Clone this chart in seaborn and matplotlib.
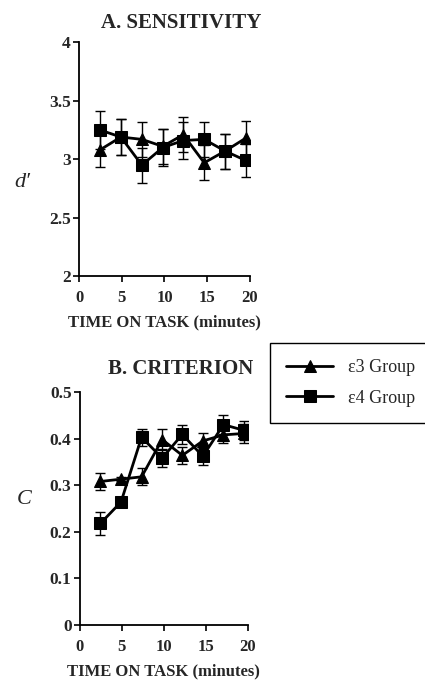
import matplotlib
matplotlib.use("Agg")
import matplotlib.pyplot as plt
import seaborn as sns
import pandas as pd
import numpy as np

sns.set_theme(style="ticks")
plt.rcParams['font.family'] = ['Liberation Serif', 'DejaVu Serif']

# ---- data ----
time_min = [2.45, 4.9, 7.35, 9.8, 12.2, 14.65, 17.1, 19.5]
groups = ["ε3 Group", "ε4 Group"]

dprime_e3 = [3.08, 3.19, 3.17, 3.11, 3.21, 2.97, 3.07, 3.18]
dprime_e4 = [3.25, 3.19, 2.95, 3.10, 3.16, 3.17, 3.07, 2.99]
dprime_err_e3 = [0.15, 0.15, 0.15, 0.15, 0.15, 0.15, 0.15, 0.15]
dprime_err_e4 = [0.16, 0.15, 0.15, 0.16, 0.16, 0.15, 0.15, 0.14]

crit_e3 = [0.308, 0.313, 0.318, 0.398, 0.364, 0.395, 0.408, 0.411]
crit_e4 = [0.218, 0.264, 0.403, 0.358, 0.409, 0.362, 0.430, 0.418]
crit_err_e3 = [0.018, 0.004, 0.018, 0.022, 0.018, 0.018, 0.018, 0.02]
crit_err_e4 = [0.025, 0.004, 0.018, 0.02, 0.02, 0.018, 0.02, 0.02]

df = pd.DataFrame({
    "time": time_min * 2,
    "group": [groups[0]] * 8 + [groups[1]] * 8,
    "dprime": dprime_e3 + dprime_e4,
    "dprime_err": dprime_err_e3 + dprime_err_e4,
    "crit": crit_e3 + crit_e4,
    "crit_err": crit_err_e3 + crit_err_e4,
})

fig = plt.figure(figsize=(4.25, 6.82), dpi=100)
ax1 = fig.add_axes([0.186, 0.595, 0.402, 0.343])
ax2 = fig.add_axes([0.188, 0.0836, 0.395, 0.3416])

bold = dict(fontweight="bold")

def draw(ax, ycol, ecol, ylim, yticks, yticklabels, title, title_pad, ylabel, ylabel_y):
    for g in groups:
        sub = df[df.group == g]
        ax.errorbar(sub["time"], sub[ycol], yerr=sub[ecol], fmt="none",
                    ecolor="black", elinewidth=1.0, capsize=3.5, capthick=1.0, zorder=2)
    sns.lineplot(data=df, x="time", y=ycol, hue="group", style="group",
                 markers=["^", "s"], dashes=False, palette=["black", "black"],
                 markersize=9, linewidth=2, markeredgecolor="black",
                 ax=ax, legend=(ax is ax2), zorder=3)
    ax.set_xlim(0, 20)
    ax.set_ylim(*ylim)
    ax.set_xticks([0, 5, 10, 15, 20])
    ax.set_xticklabels(["0", "5", "10", "15", "20"], fontsize=12, **bold)
    ax.set_yticks(yticks)
    ax.set_yticklabels(yticklabels, fontsize=12.5, **bold)
    ax.spines["top"].set_visible(False)
    ax.spines["right"].set_visible(False)
    for s in ("left", "bottom"):
        ax.spines[s].set_linewidth(1.3)
        ax.spines[s].set_color("black")
    ax.tick_params(axis="both", direction="out", length=4, width=1.2, color="black")
    ax.tick_params(axis="x", pad=6)
    ax.tick_params(axis="y", pad=2)
    ax.set_xlabel("TIME ON TASK (minutes)", fontsize=12, **bold, labelpad=6)
    ax.set_ylabel(ylabel, fontsize=16, style="italic", rotation=0, va="center")
    ax.yaxis.set_label_coords(-0.33, ylabel_y)
    ax.set_title(title, fontsize=15, **bold, pad=title_pad, x=0.6)
    ax.set_facecolor("white")

draw(ax1, "dprime", "dprime_err", (2, 4), [2, 2.5, 3, 3.5, 4],
     ["2", "2.5", "3", "3.5", "4"], "A. SENSITIVITY", 10, "d′", 0.40)
draw(ax2, "crit", "crit_err", (0, 0.5), [0, 0.1, 0.2, 0.3, 0.4, 0.5],
     ["0", "0.1", "0.2", "0.3", "0.4", "0.5"], "B. CRITERION", 13, "C", 0.54)

leg = ax2.get_legend()
handles, labels = leg.legend_handles, [t.get_text() for t in leg.get_texts()]
leg.remove()
fig.legend(handles, labels, loc="upper left",
           bbox_to_anchor=(270 / 425, 1 - 343 / 682),
           frameon=True, fancybox=False, edgecolor="black", fontsize=13,
           handlelength=2.6, borderpad=0.9, labelspacing=0.75,
           borderaxespad=0, framealpha=1, handletextpad=0.8)
fig.legends[0].get_frame().set_linewidth(1.0)

fig.savefig("out.png", dpi=100, facecolor="white")
